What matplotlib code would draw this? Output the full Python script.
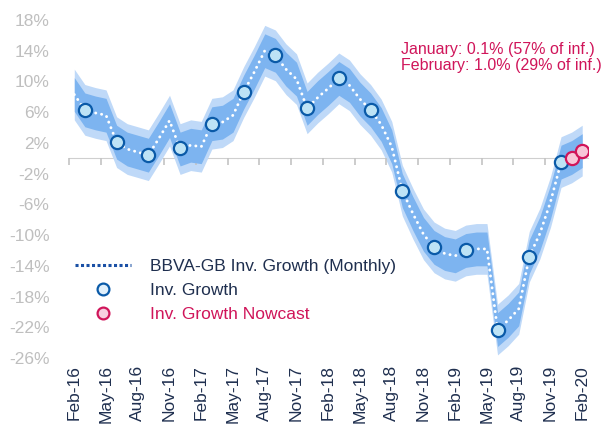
import numpy as np
import matplotlib
matplotlib.use("Agg")
import matplotlib.pyplot as plt
from matplotlib.lines import Line2D

plt.rcParams['font.family'] = ['Liberation Sans', 'DejaVu Sans']

# -------------------------------------------------
# data
# -------------------------------------------------

months = ["Feb-16", "Mar-16", "Apr-16", "May-16", "Jun-16", "Jul-16", "Aug-16",
          "Sep-16", "Oct-16", "Nov-16", "Dec-16", "Jan-17", "Feb-17", "Mar-17",
          "Apr-17", "May-17", "Jun-17", "Jul-17", "Aug-17", "Sep-17", "Oct-17",
          "Nov-17", "Dec-17", "Jan-18", "Feb-18", "Mar-18", "Apr-18", "May-18",
          "Jun-18", "Jul-18", "Aug-18", "Sep-18", "Oct-18", "Nov-18", "Dec-18",
          "Jan-19", "Feb-19", "Mar-19", "Apr-19", "May-19", "Jun-19", "Jul-19",
          "Aug-19", "Sep-19", "Oct-19", "Nov-19", "Dec-19", "Jan-20", "Feb-20"]

# monthly model estimate (%)
monthly = [8.3, 6.3, 5.9, 5.6, 2.1, 1.2, 0.8, 0.4, 2.6, 4.9, 1.2, 1.7, 1.5, 4.5,
           4.7, 5.6, 8.6, 11.2, 14.0, 13.4, 11.6, 10.3, 6.5, 7.9, 9.1, 10.4, 9.5,
           7.7, 6.3, 4.4, 1.5, -4.2, -7.2, -9.9, -11.6, -12.4, -12.7, -12.0,
           -11.8, -11.8, -22.3, -21.1, -19.6, -12.8, -9.8, -5.7, -0.5, 0.1, 1.0]

# half widths of the confidence bands (%)
band_inner = 2.2
band_outer = 3.3

# quarterly observed investment growth
quarters = ["Mar-16", "Jun-16", "Sep-16", "Dec-16", "Mar-17", "Jun-17", "Sep-17",
            "Dec-17", "Mar-18", "Jun-18", "Sep-18", "Dec-18", "Mar-19", "Jun-19",
            "Sep-19", "Dec-19"]
quarterly = [6.3, 2.1, 0.4, 1.3, 4.5, 8.6, 13.4, 6.5, 10.4, 6.3, -4.2, -11.6,
             -12.0, -22.3, -12.8, -0.5]

nowcast_months = ["Jan-20", "Feb-20"]
nowcast = [0.1, 1.0]

notes = ["January: 0.1% (57% of inf.)", "February: 1.0% (29% of inf.)"]

yticks = list(range(-26, 19, 4))

# -------------------------------------------------
# plot
# -------------------------------------------------

navy = "#1F2F4F"
pink = "#D0155A"

x = np.arange(len(months))
m = np.array(monthly)
qx = [months.index(q) for q in quarters]
nx = [months.index(q) for q in nowcast_months]

fig = plt.figure(figsize=(6.03, 4.29), dpi=100)
ax = fig.add_axes([69 / 603, 71 / 429, 518.5 / 603, 338 / 429])

# spines first: moving a spine resets the ticks
for s in ["left", "right", "bottom"]:
    ax.spines[s].set_visible(False)
ax.spines["top"].set_position(("data", 0))
ax.spines["top"].set_color("#CFCFCF")
ax.spines["top"].set_zorder(0.5)

ax.fill_between(x, m - band_outer, m + band_outer, color="#BFD9F8", lw=0, zorder=1)
ax.fill_between(x, m - band_inner, m + band_inner, color="#7DB4F0", lw=0, zorder=2)

ax.plot(x, m, color="white", lw=2.1, linestyle=(0, (0.05, 2.0)),
        dash_capstyle="round", zorder=3)

ax.plot(qx, quarterly, "o", ms=9.5, mfc="#BDE3F6", mec="#0A5AA8", mew=1.6, zorder=5)
ax.plot(nx, nowcast, "o", ms=9.5, mfc="#F8C6D8", mec=pink, mew=1.6, zorder=5)

ax.set_xlim(-0.5, len(months) - 0.5)
ax.set_ylim(-26, 18)

# labels every 3 months, ticks on the zero line between categories
ax.set_xticks(x[::3])
ax.set_xticklabels(months[::3])
ax.set_xticks(np.arange(-0.5, len(months), 3), minor=True)
ax.tick_params(axis="x", which="major", length=0, pad=5, labelrotation=90,
               labelcolor=navy, labelsize=12.5, top=False, bottom=True)
ax.tick_params(axis="x", which="minor", bottom=False, top=True, direction="in",
               length=5, color="#C4C4C4", width=1.2)

ax.set_yticks(yticks)
ax.set_yticklabels([f"{v}%" for v in yticks])
ax.tick_params(axis="y", length=0, pad=14, labelcolor="#BFBFBF", labelsize=12.5)

# legend
handles = [
    Line2D([], [], color="#1A50A5", lw=2.2, linestyle=(0, (1, 0.8))),
    Line2D([], [], ls="", marker="o", ms=8.5, mfc="#E1F0FB", mec="#0A5AA8", mew=1.6),
    Line2D([], [], ls="", marker="o", ms=8.5, mfc="#F8CFE0", mec=pink, mew=1.6),
]
labels = ["BBVA-GB Inv. Growth (Monthly)", "Inv. Growth", "Inv. Growth Nowcast"]
leg = fig.legend(handles, labels, loc="upper left",
                 bbox_to_anchor=(75 / 603, 1 - 259 / 429),
                 frameon=False, fontsize=12.5, handlelength=3.2,
                 handletextpad=1.1, labelspacing=0.5, borderpad=0,
                 borderaxespad=0)
for t, c in zip(leg.get_texts(), [navy, navy, pink]):
    t.set_color(c)

fig.text(401 / 603, 1 - 42 / 429, "\n".join(notes), color=pink, fontsize=11.5,
         ha="left", va="top", linespacing=1.1)

fig.savefig("out.png", dpi=100)
